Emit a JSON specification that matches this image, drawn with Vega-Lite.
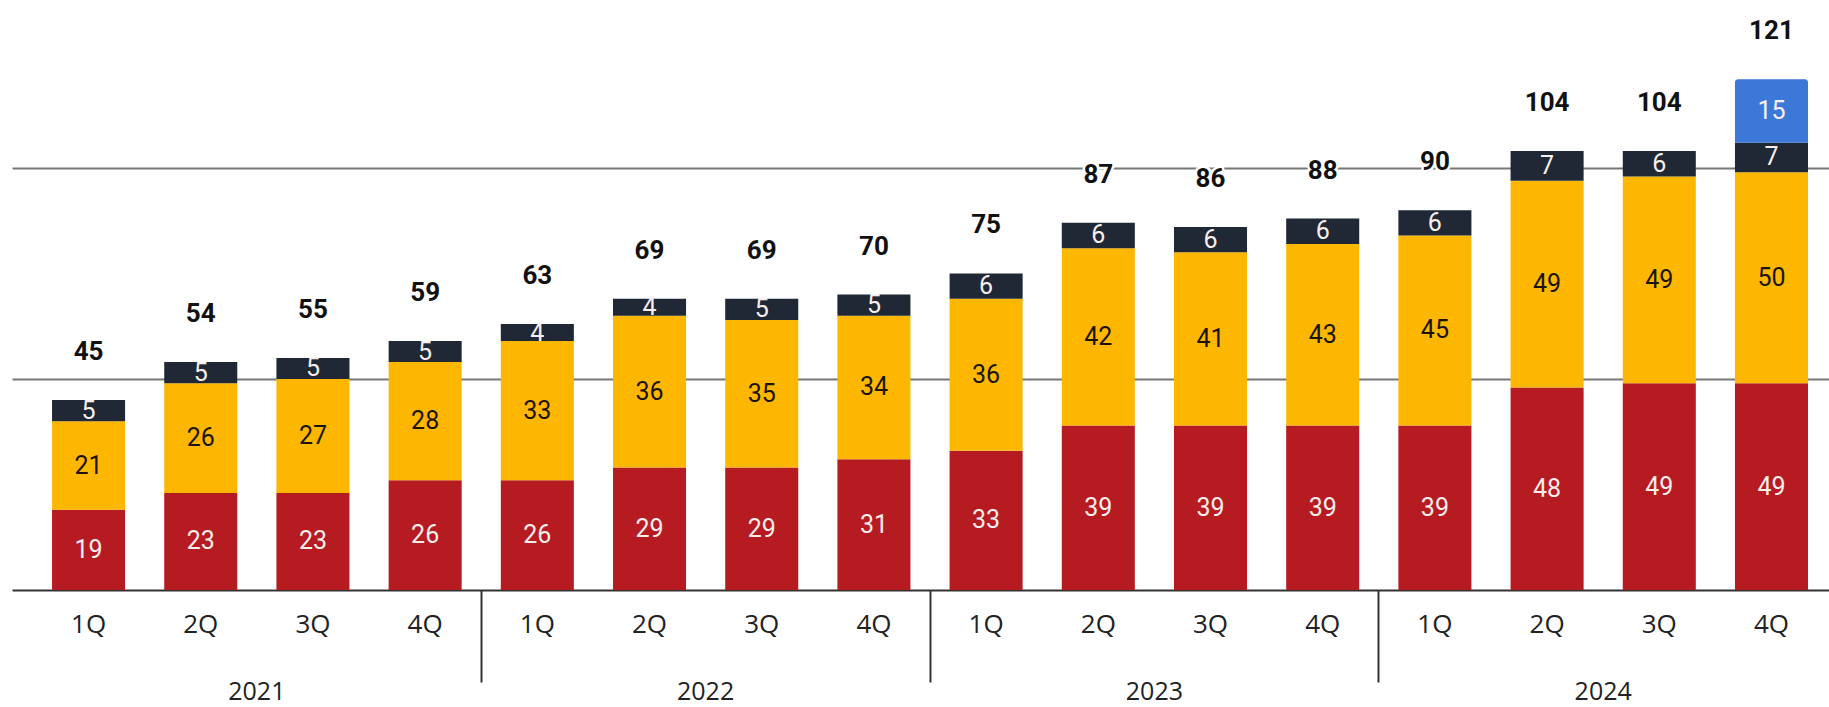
{
  "$schema": "https://vega.github.io/schema/vega-lite/v6.json",
  "width": 1817,
  "height": 590,
  "autosize": {"type": "none"},
  "padding": {"left": 12, "top": 0, "right": 0, "bottom": 117},
  "background": "white",
  "config": {"view": {"stroke": null}, "font": "Roboto"},
  "data": {"values": [
    {"q":"2021 1Q","year":"2021","series":"s1","value":19},{"q":"2021 1Q","year":"2021","series":"s2","value":21},{"q":"2021 1Q","year":"2021","series":"s3","value":5},
    {"q":"2021 2Q","year":"2021","series":"s1","value":23},{"q":"2021 2Q","year":"2021","series":"s2","value":26},{"q":"2021 2Q","year":"2021","series":"s3","value":5},
    {"q":"2021 3Q","year":"2021","series":"s1","value":23},{"q":"2021 3Q","year":"2021","series":"s2","value":27},{"q":"2021 3Q","year":"2021","series":"s3","value":5},
    {"q":"2021 4Q","year":"2021","series":"s1","value":26},{"q":"2021 4Q","year":"2021","series":"s2","value":28},{"q":"2021 4Q","year":"2021","series":"s3","value":5},
    {"q":"2022 1Q","year":"2022","series":"s1","value":26},{"q":"2022 1Q","year":"2022","series":"s2","value":33},{"q":"2022 1Q","year":"2022","series":"s3","value":4},
    {"q":"2022 2Q","year":"2022","series":"s1","value":29},{"q":"2022 2Q","year":"2022","series":"s2","value":36},{"q":"2022 2Q","year":"2022","series":"s3","value":4},
    {"q":"2022 3Q","year":"2022","series":"s1","value":29},{"q":"2022 3Q","year":"2022","series":"s2","value":35},{"q":"2022 3Q","year":"2022","series":"s3","value":5},
    {"q":"2022 4Q","year":"2022","series":"s1","value":31},{"q":"2022 4Q","year":"2022","series":"s2","value":34},{"q":"2022 4Q","year":"2022","series":"s3","value":5},
    {"q":"2023 1Q","year":"2023","series":"s1","value":33},{"q":"2023 1Q","year":"2023","series":"s2","value":36},{"q":"2023 1Q","year":"2023","series":"s3","value":6},
    {"q":"2023 2Q","year":"2023","series":"s1","value":39},{"q":"2023 2Q","year":"2023","series":"s2","value":42},{"q":"2023 2Q","year":"2023","series":"s3","value":6},
    {"q":"2023 3Q","year":"2023","series":"s1","value":39},{"q":"2023 3Q","year":"2023","series":"s2","value":41},{"q":"2023 3Q","year":"2023","series":"s3","value":6},
    {"q":"2023 4Q","year":"2023","series":"s1","value":39},{"q":"2023 4Q","year":"2023","series":"s2","value":43},{"q":"2023 4Q","year":"2023","series":"s3","value":6},
    {"q":"2024 1Q","year":"2024","series":"s1","value":39},{"q":"2024 1Q","year":"2024","series":"s2","value":45},{"q":"2024 1Q","year":"2024","series":"s3","value":6},
    {"q":"2024 2Q","year":"2024","series":"s1","value":48},{"q":"2024 2Q","year":"2024","series":"s2","value":49},{"q":"2024 2Q","year":"2024","series":"s3","value":7},
    {"q":"2024 3Q","year":"2024","series":"s1","value":49},{"q":"2024 3Q","year":"2024","series":"s2","value":49},{"q":"2024 3Q","year":"2024","series":"s3","value":6},
    {"q":"2024 4Q","year":"2024","series":"s1","value":49},{"q":"2024 4Q","year":"2024","series":"s2","value":50},{"q":"2024 4Q","year":"2024","series":"s3","value":7},{"q":"2024 4Q","year":"2024","series":"s4","value":15}
  ]},
  "transform": [
    {"stack": "value", "groupby": ["q"], "sort": [{"field": "series", "order": "ascending"}], "as": ["y0", "y1"]}
  ],
  "layer": [
    {
      "layer": [
        {
          "transform": [{"filter": "datum.series !== 's4'"}],
          "mark": {"type": "bar"},
          "encoding": {
            "x": {"field": "q", "type": "nominal", "sort": "ascending",
              "scale": {"type": "band", "paddingInner": 0.349, "paddingOuter": 0.272, "align": 0.656},
              "axis": {"orient": "bottom", "title": null, "domain": true, "domainColor": "#333333", "domainWidth": 2, "ticks": false, "tickSize": 0, "labelPadding": 34, "labelBaseline": "middle", "labelAngle": 0, "labelFontSize": 26, "labelFont": "Open Sans", "labelColor": "#222222", "labelExpr": "slice(datum.value, 5)", "grid": false}},
            "y": {"field": "y0", "type": "quantitative",
              "scale": {"domain": [0, 139.8], "nice": false, "zero": true},
              "axis": {"title": null, "values": [50, 100], "grid": true, "gridColor": "#777777", "gridWidth": 2, "domain": false, "ticks": false, "labels": false}},
            "y2": {"field": "y1"},
            "color": {"field": "series", "type": "nominal", "legend": null,
              "scale": {"domain": ["s1", "s2", "s3", "s4"], "range": ["#B51B21", "#FDB700", "#1F2834", "#3B78D8"]}}
          }
        },
        {
          "transform": [{"filter": "datum.series === 's4'"}],
          "mark": {"type": "bar", "cornerRadiusTopLeft": 3, "cornerRadiusTopRight": 3},
          "encoding": {
            "x": {"field": "q", "type": "nominal", "sort": "ascending"},
            "y": {"field": "y0", "type": "quantitative",
              "axis": {"title": null, "values": [50, 100], "grid": true, "gridColor": "#777777", "gridWidth": 2, "domain": false, "ticks": false, "labels": false}},
            "y2": {"field": "y1"},
            "color": {"field": "series", "type": "nominal", "legend": null}
          }
        },
        {
          "transform": [
            {"fold": ["y0", "y1"], "as": ["k", "v"]},
            {"aggregate": [{"op": "mean", "field": "v", "as": "mid"}], "groupby": ["q", "series", "value"]}
          ],
          "mark": {"type": "text", "fontSize": 25, "font": "Roboto", "baseline": "middle", "align": "center"},
          "encoding": {
            "x": {"field": "q", "type": "nominal", "sort": "ascending"},
            "y": {"field": "mid", "type": "quantitative",
              "axis": {"title": null, "values": [50, 100], "grid": true, "gridColor": "#777777", "gridWidth": 2, "domain": false, "ticks": false, "labels": false}},
            "text": {"field": "value", "type": "quantitative"},
            "fill": {"condition": {"test": "datum.series === 's2'", "value": "#1a140c"}, "value": "#f7eeee"}
          }
        },
        {
          "transform": [{"aggregate": [{"op": "sum", "field": "value", "as": "total"}], "groupby": ["q"]}],
          "mark": {"type": "text", "fontSize": 26, "fontWeight": "bold", "font": "Roboto", "baseline": "middle", "align": "center", "dy": -48, "fill": "white", "stroke": "#ffffff", "strokeWidth": 5, "strokeJoin": "round"},
          "encoding": {
            "x": {"field": "q", "type": "nominal", "sort": "ascending"},
            "y": {"field": "total", "type": "quantitative",
              "axis": {"title": null, "values": [50, 100], "grid": true, "gridColor": "#777777", "gridWidth": 2, "domain": false, "ticks": false, "labels": false}},
            "text": {"field": "total", "type": "quantitative"}
          }
        },
        {
          "transform": [{"aggregate": [{"op": "sum", "field": "value", "as": "total"}], "groupby": ["q"]}],
          "mark": {"type": "text", "fontSize": 26, "fontWeight": "bold", "font": "Roboto", "baseline": "middle", "align": "center", "dy": -48, "fill": "#111111"},
          "encoding": {
            "x": {"field": "q", "type": "nominal", "sort": "ascending"},
            "y": {"field": "total", "type": "quantitative",
              "axis": {"title": null, "values": [50, 100], "grid": true, "gridColor": "#777777", "gridWidth": 2, "domain": false, "ticks": false, "labels": false}},
            "text": {"field": "total", "type": "quantitative"}
          }
        }
      ]
    },
    {
      "transform": [{"aggregate": [{"op": "count", "as": "n"}], "groupby": ["year"]}],
      "mark": {"type": "text", "text": ""},
      "encoding": {
        "x": {"field": "year", "type": "nominal", "sort": "ascending",
          "scale": {"type": "band", "paddingInner": 0, "paddingOuter": 0.02438, "align": 0.935},
          "axis": {"orient": "bottom", "title": null, "domain": false, "ticks": false, "tickSize": 0, "labelPadding": 101, "labelBaseline": "middle", "labelAngle": 0, "labelFontSize": 25, "labelFont": "Open Sans", "labelColor": "#222222", "grid": false}}
      }
    },
    {
      "transform": [{"aggregate": [{"op": "count", "as": "n"}], "groupby": ["year"]}],
      "mark": {"type": "text", "text": ""},
      "encoding": {
        "x": {"field": "year", "type": "nominal", "sort": "ascending",
          "scale": {"type": "band", "paddingInner": 0, "paddingOuter": 0.02438, "align": 0.935},
          "axis": {"orient": "bottom", "title": null, "domain": false, "labels": false, "ticks": true, "tickSize": 92, "tickWidth": 2, "tickColor": "#333333", "values": ["2021", "2022", "2023"], "bandPosition": 1, "grid": false}}
      }
    }
  ],
  "resolve": {"scale": {"x": "independent"}, "axis": {"x": "independent"}}
}
